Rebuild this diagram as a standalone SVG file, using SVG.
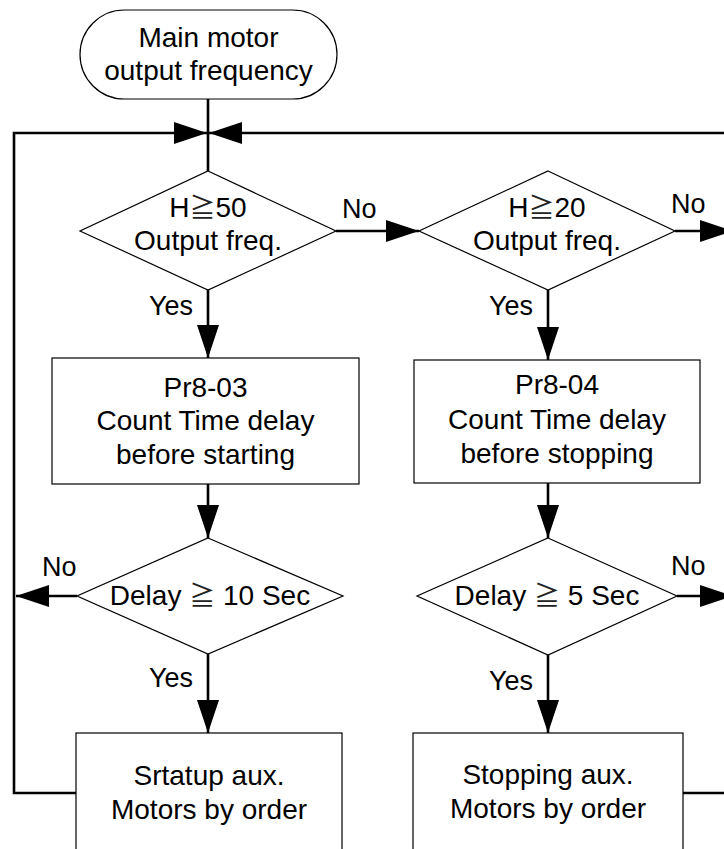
<svg xmlns="http://www.w3.org/2000/svg" width="724" height="849" viewBox="0 0 724 849">
<style>
.shape{fill:#fff;stroke:#000;stroke-width:1.2}
.conn{fill:none;stroke:#000;stroke-width:2.6}
text{font-family:"Liberation Sans","Noto Sans CJK JP",Arial,sans-serif;font-size:28px;fill:#000;text-anchor:middle}
.lbl{font-size:27px}
.end{text-anchor:end}
.start{text-anchor:start}
.ge{font-family:"Noto Sans CJK TC","Noto Sans CJK JP",sans-serif;font-size:26px;fill:#222}
</style>
<defs>
<marker id="ah" viewBox="0 0 33 22" refX="33" refY="11" markerWidth="33" markerHeight="22" markerUnits="userSpaceOnUse" orient="auto">
<path d="M0,0 L33,11 L0,22 Z" fill="#000"/>
</marker>
</defs>
<rect width="724" height="849" fill="#fff"/>
<g id="connectors">
<line class="conn" x1="208" y1="99" x2="208" y2="171"/>
<polyline class="conn" points="76,793 14,793 14,133 207,133" marker-end="url(#ah)"/>
<line class="conn" x1="740" y1="133" x2="209" y2="133" marker-end="url(#ah)"/>
<line class="conn" x1="683" y1="793" x2="740" y2="793"/>
<line class="conn" x1="336" y1="231" x2="419" y2="231" marker-end="url(#ah)"/>
<line class="conn" x1="675" y1="231" x2="733" y2="231" marker-end="url(#ah)"/>
<line class="conn" x1="208" y1="290" x2="208" y2="358" marker-end="url(#ah)"/>
<line class="conn" x1="548" y1="290" x2="548" y2="360" marker-end="url(#ah)"/>
<line class="conn" x1="208" y1="484" x2="208" y2="538" marker-end="url(#ah)"/>
<line class="conn" x1="548" y1="483" x2="548" y2="538" marker-end="url(#ah)"/>
<line class="conn" x1="77" y1="596" x2="16" y2="596" marker-end="url(#ah)"/>
<line class="conn" x1="677" y1="596" x2="733" y2="596" marker-end="url(#ah)"/>
<line class="conn" x1="208" y1="654" x2="208" y2="733" marker-end="url(#ah)"/>
<line class="conn" x1="548" y1="655" x2="548" y2="733" marker-end="url(#ah)"/>
<text class="lbl start" x="342" y="218">No</text>
<text class="lbl start" x="671" y="213">No</text>
<text class="lbl start" x="42" y="576">No</text>
<text class="lbl start" x="671" y="575">No</text>
<text class="lbl end" x="193" y="315">Yes</text>
<text class="lbl end" x="533" y="315">Yes</text>
<text class="lbl end" x="193" y="687">Yes</text>
<text class="lbl end" x="533" y="690">Yes</text>
</g>
<g id="start">
<rect class="shape" x="80" y="10" width="257" height="89" rx="44.5" ry="44.5"/>
<text x="208.5" y="47">Main motor</text>
<text x="208.5" y="80">output frequency</text>
</g>
<g id="dec1">
<polygon class="shape" points="208,171 336,231 208,290 80,231"/>
<text x="208" y="217">H<tspan class="ge">≧</tspan>50</text>
<text x="208" y="250">Output freq.</text>
</g>
<g id="dec2">
<polygon class="shape" points="548,171 675,231 548,290 419,231"/>
<text x="547" y="217">H<tspan class="ge">≧</tspan>20</text>
<text x="547" y="250">Output freq.</text>
</g>
<g id="box1">
<rect class="shape" x="52" y="358" width="307" height="126"/>
<text x="205.5" y="397">Pr8-03</text>
<text x="205.5" y="430">Count Time delay</text>
<text x="205.5" y="464">before starting</text>
</g>
<g id="box2">
<rect class="shape" x="414" y="360" width="286" height="123"/>
<text x="557" y="394">Pr8-04</text>
<text x="557" y="429">Count Time delay</text>
<text x="557" y="463">before stopping</text>
</g>
<g id="dec3">
<polygon class="shape" points="208,538 343,596 208,654 77,596"/>
<text x="210" y="605">Delay <tspan class="ge">≧</tspan> 10 Sec</text>
</g>
<g id="dec4">
<polygon class="shape" points="548,538 677,596 548,655 417,596"/>
<text x="547" y="605">Delay <tspan class="ge">≧</tspan> 5 Sec</text>
</g>
<g id="box3">
<rect class="shape" x="76" y="733" width="266" height="130"/>
<text x="209" y="785">Srtatup aux.</text>
<text x="209" y="819">Motors by order</text>
</g>
<g id="box4">
<rect class="shape" x="413" y="733" width="270" height="130"/>
<text x="548" y="784">Stopping aux.</text>
<text x="548" y="818">Motors by order</text>
</g>
</svg>
